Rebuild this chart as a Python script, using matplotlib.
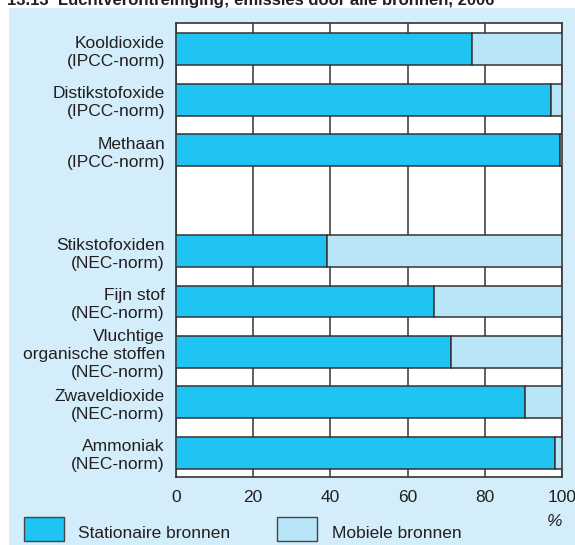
import numpy as np
import matplotlib.pyplot as plt
from matplotlib.patches import Rectangle

plt.rcParams['font.family'] = ['Liberation Sans', 'DejaVu Sans']

# data
labels = [
    "Kooldioxide\n(IPCC-norm)",
    "Distikstofoxide\n(IPCC-norm)",
    "Methaan\n(IPCC-norm)",
    "",
    "Stikstofoxiden\n(NEC-norm)",
    "Fijn stof\n(NEC-norm)",
    "Vluchtige\norganische stoffen\n(NEC-norm)",
    "Zwaveldioxide\n(NEC-norm)",
    "Ammoniak\n(NEC-norm)",
]
stationair = [76.8, 97.2, 99.6, 0, 39.1, 66.8, 71.3, 90.5, 98.2]
mobiel = [23.2, 2.8, 0.4, 0, 60.9, 33.2, 28.7, 9.5, 1.8]
xticks = [0, 20, 40, 60, 80, 100]

title = "13.13  Luchtverontreiniging; emissies door alle bronnen, 2006"

c_stat = "#1fc4f2"
c_mob = "#b9e5f8"
c_bg = "#d3eefa"
c_txt = "#231f20"

fig = plt.figure(figsize=(5.75, 5.45), dpi=100)

# light blue panel behind the chart
fig.add_artist(Rectangle((9 / 575, 0), 1, 1 - 8 / 545, transform=fig.transFigure,
                         facecolor=c_bg, edgecolor="none", zorder=0))
# title is cut off at the top edge, as in the original
fig.text(0.012, 1 - 1 / 545, title, fontsize=12, fontweight="bold",
         va="center", ha="left", color=c_txt)

ax = fig.add_axes([176 / 575, 1 - 477 / 545, (562 - 176) / 575, (477 - 23) / 545])
ax.set_facecolor("white")

y = np.arange(len(labels))
mask = [s + m > 0 for s, m in zip(stationair, mobiel)]
ys = y[mask]
st = np.array(stationair)[mask]
mb = np.array(mobiel)[mask]

ax.barh(ys, st, height=0.63, color=c_stat, edgecolor="#333333", linewidth=1.1, zorder=3)
ax.barh(ys, mb, left=st, height=0.63, color=c_mob, edgecolor="#333333", linewidth=1.1, zorder=3)

ax.set_xlim(0, 100)
ax.set_ylim(len(labels) - 0.52, -0.52)
ax.set_xticks(xticks)
ax.set_xticklabels([str(t) for t in xticks], fontsize=12.5, color=c_txt)
ax.set_yticks(y)
ax.set_yticklabels(labels, fontsize=12.5, color=c_txt, linespacing=1.25)
ax.tick_params(axis="both", length=0, pad=9)
ax.tick_params(axis="y", pad=8)
ax.grid(axis="x", color="#444444", linewidth=1.2, zorder=1)
for sp in ax.spines.values():
    sp.set_color("#333333")
    sp.set_linewidth(1.2)

# legend
fig.add_artist(Rectangle((24 / 575, 1 - 541 / 545), 40 / 575, 24 / 545,
                         transform=fig.transFigure, facecolor=c_stat,
                         edgecolor="#444444", linewidth=1))
fig.text(78 / 575, 1 - 533 / 545, "Stationaire bronnen", fontsize=12.5,
         va="center", ha="left", color=c_txt)
fig.add_artist(Rectangle((277 / 575, 1 - 541 / 545), 40 / 575, 24 / 545,
                         transform=fig.transFigure, facecolor=c_mob,
                         edgecolor="#444444", linewidth=1))
fig.text(332 / 575, 1 - 533 / 545, "Mobiele bronnen", fontsize=12.5,
         va="center", ha="left", color=c_txt)
fig.text(555 / 575, 1 - 522 / 545, "%", fontsize=12.5, style="italic",
         va="center", ha="center", color=c_txt)

fig.savefig("out.png", dpi=100)
